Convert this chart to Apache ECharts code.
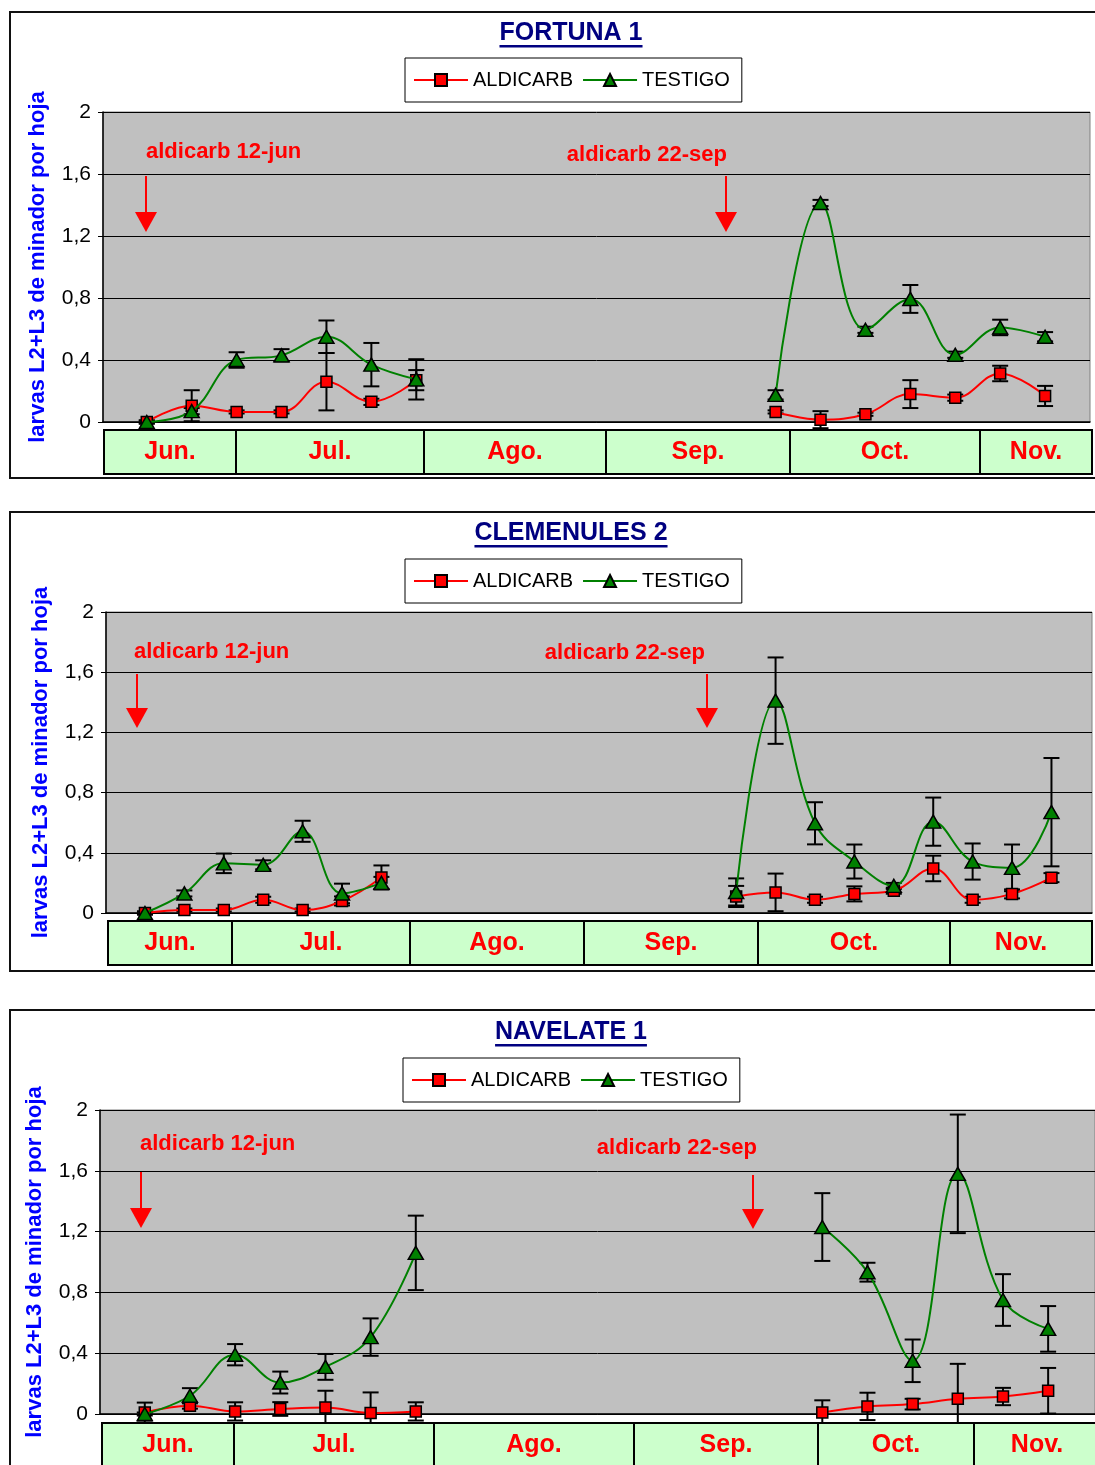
<!DOCTYPE html>
<html>
<head>
<meta charset="utf-8">
<script src="https://cdn.jsdelivr.net/npm/echarts@6/dist/echarts.min.js"></script>
<style>
  html, body { margin: 0; padding: 0; background: #fff; }
  #chart { width: 1095px; height: 1465px; }
</style>
</head>
<body>
<div id="chart"></div>
<script>
const seriesNames = ['ALDICARB', 'TESTIGO'];
const months = ['Jun.', 'Jul.', 'Ago.', 'Sep.', 'Oct.', 'Nov.'];
const yTicks = [0, 0.4, 0.8, 1.2, 1.6, 2];
const yName = 'larvas L2+L3 de minador por hoja';
const treatments = ['aldicarb 12-jun', 'aldicarb 22-sep'];

// sampling dates are day of year, summer block then autumn block
const fortunaDays = [163, 171, 179, 187, 195, 203, 211, 275, 283, 291, 299, 307, 315, 323];
const fortunaAld = [0.0, 0.105, 0.065, 0.065, 0.26, 0.13, 0.27, 0.065, 0.015, 0.05, 0.18, 0.157, 0.313, 0.168];
const fortunaAldErr = [0.01, 0.1, 0.01, 0.01, 0.185, 0.02, 0.065, 0.01, 0.055, 0.01, 0.09, 0.02, 0.05, 0.065];
const fortunaTes = [0.0, 0.07, 0.4, 0.43, 0.55, 0.37, 0.275, 0.175, 1.413, 0.595, 0.794, 0.434, 0.61, 0.55];
const fortunaTesErr = [0.01, 0.02, 0.05, 0.04, 0.105, 0.14, 0.13, 0.03, 0.02, 0.02, 0.09, 0.02, 0.05, 0.03];

const clemDays = [163, 170, 177, 184, 191, 198, 205, 268, 275, 282, 289, 296, 303, 310, 317, 324];
const clemAld = [0.0, 0.02, 0.02, 0.088, 0.02, 0.08, 0.236, 0.11, 0.137, 0.088, 0.127, 0.148, 0.296, 0.088, 0.127, 0.235];
const clemAldErr = [0.01, 0.01, 0.01, 0.02, 0.01, 0.03, 0.08, 0.07, 0.125, 0.02, 0.05, 0.02, 0.085, 0.02, 0.03, 0.03];
const clemTes = [0.0, 0.13, 0.33, 0.32, 0.543, 0.13, 0.2, 0.14, 1.411, 0.596, 0.342, 0.18, 0.607, 0.342, 0.3, 0.67];
const clemTesErr = [0.01, 0.02, 0.065, 0.03, 0.07, 0.065, 0.04, 0.09, 0.287, 0.14, 0.113, 0.02, 0.16, 0.12, 0.155, 0.36];

const navDays = [163, 171, 179, 187, 195, 203, 211, 283, 291, 299, 307, 315, 323];
const navAld = [0.01, 0.055, 0.017, 0.033, 0.043, 0.007, 0.017, 0.01, 0.05, 0.065, 0.1, 0.115, 0.153];
const navAldErr = [0.065, 0.02, 0.06, 0.045, 0.11, 0.135, 0.06, 0.08, 0.09, 0.035, 0.23, 0.057, 0.15];
const navTes = [0.0, 0.12, 0.39, 0.207, 0.31, 0.506, 1.06, 1.23, 0.933, 0.35, 1.58, 0.75, 0.56];
const navTesErr = [0.01, 0.05, 0.07, 0.072, 0.085, 0.123, 0.245, 0.223, 0.062, 0.14, 0.39, 0.17, 0.15];

const FONT = '"Liberation Sans", Arial, sans-serif';

// layout of the three boxes
const panels = [
  {
    title: 'FORTUNA 1', days: fortunaDays, ald: fortunaAld, aldErr: fortunaAldErr, tes: fortunaTes, tesErr: fortunaTesErr, split: 7,
    box: [12, 466], titleY: 33, legendPos: [405, 58],
    grid: { left: 103, top: 112, width: 987, height: 310 }, xRange: [155.2, 331],
    bandTop: 430, bandEdges: [104, 236, 424, 606, 790, 980, 1092],
    notes: [
      { x: 146, textX: 146, align: 'left', textY: 152, top: 176, tip: 232 },
      { x: 726, textX: 727, align: 'right', textY: 155, top: 176, tip: 232 },
    ],
  },
  {
    title: 'CLEMENULES 2', days: clemDays, ald: clemAld, aldErr: clemAldErr, tes: clemTes, tesErr: clemTesErr, split: 7,
    box: [512, 459], titleY: 533, legendPos: [405, 559],
    grid: { left: 106, top: 612, width: 986, height: 301 }, xRange: [156.08, 331.2],
    bandTop: 921, bandEdges: [108, 232, 410, 584, 758, 950, 1092],
    notes: [
      { x: 137, textX: 134, align: 'left', textY: 652, top: 674, tip: 728 },
      { x: 707, textX: 705, align: 'right', textY: 653, top: 674, tip: 728 },
    ],
  },
  {
    title: 'NAVELATE 1', days: navDays, ald: navAld, aldErr: navAldErr, tes: navTes, tesErr: navTesErr, split: 7,
    box: [1010, 600], titleY: 1032, legendPos: [403, 1058],
    grid: { left: 100, top: 1110, width: 1000, height: 304 }, xRange: [155.07, 331.3],
    bandTop: 1423, bandEdges: [102, 234, 434, 634, 818, 974, 1100],
    notes: [
      { x: 141, textX: 140, align: 'left', textY: 1144, top: 1172, tip: 1228 },
      { x: 753, textX: 757, align: 'right', textY: 1148, top: 1175, tip: 1229 },
    ],
  },
];

function lineData(days, vals, split) {
  const out = days.map((d, i) => [d, vals[i]]);
  out.splice(split, 0, [(days[split - 1] + days[split]) / 2, '-']);
  return out;
}

function renderErr(params, api) {
  const x = api.value(0), y = api.value(1), e = api.value(2);
  const hi = api.coord([x, y + e]);
  const lo = api.coord([x, y - e]);
  const w = 8;
  const st = { stroke: '#000', lineWidth: 2 };
  return {
    type: 'group',
    children: [
      { type: 'line', shape: { x1: hi[0], y1: hi[1], x2: lo[0], y2: lo[1] }, style: st },
      { type: 'line', shape: { x1: hi[0] - w, y1: hi[1], x2: hi[0] + w, y2: hi[1] }, style: st },
      { type: 'line', shape: { x1: lo[0] - w, y1: lo[1], x2: lo[0] + w, y2: lo[1] }, style: st },
    ],
  };
}

const measure = document.createElement('canvas').getContext('2d');
function textWidth(text, font) {
  measure.font = font;
  return measure.measureText(text).width;
}

const fmtY = (v) => {
  const r = Math.round(v * 10) / 10;
  return Number.isInteger(r) ? String(r) : r.toFixed(1).replace('.', ',');
};

const grids = [], xAxes = [], yAxes = [], series = [], legends = [], graphics = [];

panels.forEach((p, i) => {
  grids.push({
    left: p.grid.left, top: p.grid.top, width: p.grid.width, height: p.grid.height,
    show: true, backgroundColor: '#C0C0C0', borderColor: '#808080', borderWidth: 1,
  });
  xAxes.push({
    type: 'value', gridIndex: i, min: p.xRange[0], max: p.xRange[1],
    axisLine: { show: true, onZero: false, lineStyle: { color: '#000', width: 1.5 } },
    axisTick: { show: false }, axisLabel: { show: false }, splitLine: { show: false },
  });
  yAxes.push({
    type: 'value', gridIndex: i,
    min: yTicks[0], max: yTicks[yTicks.length - 1], interval: yTicks[1] - yTicks[0],
    name: yName, nameLocation: 'middle', nameGap: 54,
    nameTextStyle: { color: '#0000FF', fontWeight: 'bold', fontSize: 22, fontFamily: FONT },
    axisLine: { show: true, lineStyle: { color: '#000', width: 1.5 } },
    axisTick: { show: true, length: 5, lineStyle: { color: '#000' } },
    axisLabel: { formatter: fmtY, fontSize: 21, color: '#000', fontFamily: FONT, margin: 12 },
    splitLine: { show: true, lineStyle: { color: '#000', width: 1 } },
  });

  series.push({
    type: 'custom', name: 'errAld' + i, xAxisIndex: i, yAxisIndex: i, renderItem: renderErr,
    data: p.days.map((d, k) => [d, p.ald[k], p.aldErr[k]]), z: 3, silent: true,
  });
  series.push({
    type: 'custom', name: 'errTes' + i, xAxisIndex: i, yAxisIndex: i, renderItem: renderErr,
    data: p.days.map((d, k) => [d, p.tes[k], p.tesErr[k]]), z: 3, silent: true,
  });
  series.push({
    name: seriesNames[0], type: 'line', xAxisIndex: i, yAxisIndex: i,
    data: lineData(p.days, p.ald, p.split), smooth: 0.4,
    symbol: 'rect', symbolSize: 11,
    lineStyle: { color: '#FF0000', width: 2 },
    itemStyle: { color: '#FF0000', borderColor: '#000', borderWidth: 1.5 },
    z: 4,
  });
  series.push({
    name: seriesNames[1], type: 'line', xAxisIndex: i, yAxisIndex: i,
    data: lineData(p.days, p.tes, p.split), smooth: 0.4,
    symbol: 'triangle', symbolSize: [15, 13],
    lineStyle: { color: '#008000', width: 2 },
    itemStyle: { color: '#008000', borderColor: '#000', borderWidth: 1.5 },
    z: 5,
  });

  legends.push({
    data: seriesNames, left: p.legendPos[0], top: p.legendPos[1],
    itemWidth: 54, itemHeight: 15, itemGap: 9, padding: [12, 12, 12, 8],
    borderColor: '#000', borderWidth: 1, backgroundColor: '#fff', selectedMode: false,
    textStyle: { fontSize: 20, color: '#000', fontFamily: FONT },
  });

  // outer frame
  graphics.push({
    type: 'rect', silent: true, z: 1,
    shape: { x: 10, y: p.box[0], width: 1100, height: p.box[1] },
    style: { fill: 'none', stroke: '#111', lineWidth: 2 },
  });
  // title with underline
  const tFont = 'bold 25px ' + FONT;
  const tw = textWidth(p.title, tFont);
  graphics.push({
    type: 'text', silent: true, z: 10, x: 571, y: p.titleY,
    style: { text: p.title, font: tFont, fill: '#000080', align: 'center', verticalAlign: 'middle', textAlign: 'center', textVerticalAlign: 'middle' },
  });
  graphics.push({
    type: 'rect', silent: true, z: 10,
    shape: { x: 571 - tw / 2, y: p.titleY + 12, width: tw, height: 2.5 },
    style: { fill: '#000080' },
  });
  // month table under the plot
  months.forEach((m, k) => {
    const x0 = p.bandEdges[k], x1 = p.bandEdges[k + 1];
    graphics.push({
      type: 'rect', silent: true, z: 10,
      shape: { x: x0, y: p.bandTop, width: x1 - x0, height: 44 },
      style: { fill: '#CCFFCC', stroke: '#000', lineWidth: 2 },
    });
    graphics.push({
      type: 'text', silent: true, z: 11, x: (x0 + x1) / 2, y: p.bandTop + 22,
      style: { text: m, font: 'bold 25px ' + FONT, fill: '#FF0000', align: 'center', verticalAlign: 'middle', textAlign: 'center', textVerticalAlign: 'middle' },
    });
  });
  // treatment arrows
  p.notes.forEach((n, k) => {
    graphics.push({
      type: 'text', silent: true, z: 12, x: n.textX, y: n.textY,
      style: { text: treatments[k], font: 'bold 22px ' + FONT, fill: '#FF0000', align: n.align, verticalAlign: 'middle', textAlign: n.align, textVerticalAlign: 'middle' },
    });
    graphics.push({
      type: 'line', silent: true, z: 12,
      shape: { x1: n.x, y1: n.top, x2: n.x, y2: n.tip - 18 },
      style: { stroke: '#FF0000', lineWidth: 2 },
    });
    graphics.push({
      type: 'polygon', silent: true, z: 12,
      shape: { points: [[n.x - 11, n.tip - 20], [n.x + 11, n.tip - 20], [n.x, n.tip]] },
      style: { fill: '#FF0000' },
    });
  });
});

const chart = echarts.init(document.getElementById('chart'), null, { renderer: 'canvas' });
chart.setOption({
  animation: false,
  backgroundColor: '#fff',
  textStyle: { fontFamily: FONT },
  grid: grids,
  xAxis: xAxes,
  yAxis: yAxes,
  legend: legends,
  series: series,
  graphic: { elements: graphics },
});
</script>
</body>
</html>
